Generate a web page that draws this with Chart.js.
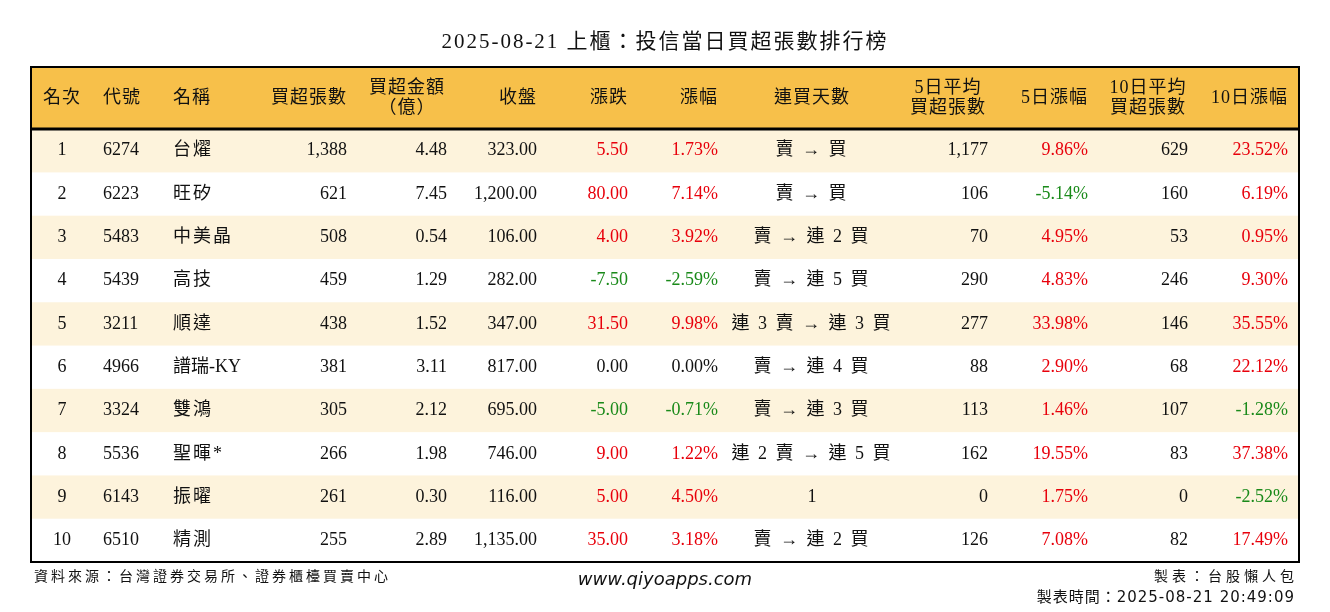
<!DOCTYPE html>
<html>
<head>
<meta charset="utf-8">
<script src="https://cdn.jsdelivr.net/npm/chart.js@4"></script>
<style>
  html, body { margin: 0; padding: 0; background: #fff; }
  #wrap { width: 1330px; height: 612px; position: relative; }
</style>
</head>
<body>
<div id="wrap"><canvas id="tbl"></canvas></div>
<script>
// 表データ
const headers = ['名次', '代號', '名稱', '買超張數', '買超金額\n（億）', '收盤', '漲跌', '漲幅', '連買天數', '5日平均\n買超張數', '5日漲幅', '10日平均\n買超張數', '10日漲幅'];
const ranks = [1, 2, 3, 4, 5, 6, 7, 8, 9, 10];
const codes = ['6274', '6223', '5483', '5439', '3211', '4966', '3324', '5536', '6143', '6510'];
const names = ['台燿', '旺矽', '中美晶', '高技', '順達', '譜瑞-KY', '雙鴻', '聖暉*', '振曜', '精測'];
const netBuy = [1388, 621, 508, 459, 438, 381, 305, 266, 261, 255];
const amount = [4.48, 7.45, 0.54, 1.29, 1.52, 3.11, 2.12, 1.98, 0.30, 2.89];
const closePrice = [323.00, 1200.00, 106.00, 282.00, 347.00, 817.00, 695.00, 746.00, 116.00, 1135.00];
const change = [5.50, 80.00, 4.00, -7.50, 31.50, 0.00, -5.00, 9.00, 5.00, 35.00];
const changePct = [1.73, 7.14, 3.92, -2.59, 9.98, 0.00, -0.71, 1.22, 4.50, 3.18];
const streak = ['賣 → 買', '賣 → 買', '賣 → 連 2 買', '賣 → 連 5 買', '連 3 賣 → 連 3 買', '賣 → 連 4 買', '賣 → 連 3 買', '連 2 賣 → 連 5 買', '1', '賣 → 連 2 買'];
const avg5 = [1177, 106, 70, 290, 277, 88, 113, 162, 0, 126];
const pct5 = [9.86, -5.14, 4.95, 4.83, 33.98, 2.90, 1.46, 19.55, 1.75, 7.08];
const avg10 = [629, 160, 53, 246, 146, 68, 107, 83, 0, 82];
const pct10 = [23.52, 6.19, 0.95, 9.30, 35.55, 22.12, -1.28, 37.38, -2.52, 17.49];

// 列の位置（x）と揃え
const cols = [
    { x: 62, align: 'center' }, { x: 103, align: 'left' }, { x: 173, align: 'left' },
    { x: 347, align: 'right' }, { x: 447, align: 'right' }, { x: 537, align: 'right' },
    { x: 628, align: 'right' }, { x: 718, align: 'right' }, { x: 812, align: 'center' },
    { x: 988, align: 'right' }, { x: 1088, align: 'right' }, { x: 1188, align: 'right' },
    { x: 1288, align: 'right' }
];

const RED = '#e8000b', GREEN = '#1a8a1a', INK = '#111';
const FONT = '"Liberation Serif", "Noto Sans CJK TC", serif';
const HEADER_ROWS = 1.435;

function fmtInt(v) { return v.toLocaleString('en-US'); }
function signColor(v) { return v > 0 ? RED : (v < 0 ? GREEN : INK); }
function hasCJK(s) { return /[\u3000-\u9fff\uff00-\uffef]/.test(s); }

function rowCells(i) {
    return [
        [String(ranks[i]), INK], [codes[i], INK], [names[i], INK],
        [fmtInt(netBuy[i]), INK], [amount[i].toFixed(2), INK],
        [closePrice[i].toLocaleString('en-US', { minimumFractionDigits: 2 }), INK],
        [change[i].toFixed(2), signColor(change[i])],
        [changePct[i].toFixed(2) + '%', signColor(changePct[i])],
        [streak[i], INK],
        [fmtInt(avg5[i]), INK], [pct5[i].toFixed(2) + '%', signColor(pct5[i])],
        [fmtInt(avg10[i]), INK], [pct10[i].toFixed(2) + '%', signColor(pct10[i])]
    ];
}

// 表を描くプラグイン
const tablePlugin = {
    id: 'tablePlugin',
    beforeDatasetsDraw(chart) {
        const { ctx, chartArea: a, scales: { x, y } } = chart;
        ctx.save();
        // 見出し
        ctx.fillStyle = '#f7c04a';
        ctx.fillRect(a.left, y.getPixelForValue(-HEADER_ROWS), a.width, y.getPixelForValue(0) - y.getPixelForValue(-HEADER_ROWS));
        // 縞模様
        ranks.forEach((r, i) => {
            if (i % 2 === 0) {
                ctx.fillStyle = '#fdf3dc';
                ctx.fillRect(a.left, y.getPixelForValue(i), a.width, y.getPixelForValue(i + 1) - y.getPixelForValue(i));
            }
        });
        ctx.textBaseline = 'middle';
        ctx.font = '18px ' + FONT;
        const hy = y.getPixelForValue(-HEADER_ROWS / 2);
        ctx.letterSpacing = '1px';
        headers.forEach((h, c) => {
            ctx.fillStyle = INK;
            const lines = h.split('\n');
            ctx.textAlign = cols[c].align === 'right' && lines.length > 1 ? 'center' : cols[c].align;
            lines.forEach((ln, k) => {
                let px = x.getPixelForValue(cols[c].x);
                if (lines.length > 1) px -= 40;
                const py = hy + (k - (lines.length - 1) / 2) * 20;
                ctx.fillText(ln, px, py);
            });
        });
        ranks.forEach((r, i) => {
            const py = y.getPixelForValue(i + 0.5);
            rowCells(i).forEach(([t, color], c) => {
                ctx.fillStyle = color;
                ctx.textAlign = cols[c].align;
                ctx.letterSpacing = hasCJK(t) && !/[A-Z]/.test(t) ? '2px' : '0px';
                ctx.fillText(t, x.getPixelForValue(cols[c].x), py);
            });
        });
        // 枠線
        ctx.strokeStyle = '#000';
        ctx.lineWidth = 3;
        ctx.beginPath();
        ctx.moveTo(a.left, y.getPixelForValue(0));
        ctx.lineTo(a.right, y.getPixelForValue(0));
        ctx.stroke();
        ctx.lineWidth = 2;
        ctx.strokeRect(a.left, a.top, a.width, a.height);
        // タイトルとフッター
        ctx.fillStyle = INK;
        ctx.textAlign = 'center';
        ctx.font = '21px ' + FONT;
        ctx.letterSpacing = '2px';
        ctx.fillText('2025-08-21 上櫃：投信當日買超張數排行榜', 665, 42);
        ctx.font = '14px "Liberation Serif", "Noto Sans CJK TC"';
        ctx.letterSpacing = '3px';
        ctx.textAlign = 'left';
        ctx.fillText('資料來源：台灣證券交易所、證券櫃檯買賣中心', 34, 577);
        ctx.textAlign = 'right';
        ctx.letterSpacing = '4px';
        ctx.fillText('製表：台股懶人包', 1298, 577);
        ctx.font = '15px "DejaVu Sans", "Noto Sans CJK TC"';
        ctx.letterSpacing = '1px';
        ctx.fillText('製表時間：2025-08-21 20:49:09', 1295, 598);
        ctx.letterSpacing = '0px';
        ctx.textAlign = 'center';
        ctx.font = 'italic 18px "DejaVu Sans"';
        ctx.fillText('www.qiyoapps.com', 665, 580);
        ctx.restore();
    }
};

Chart.defaults.animation = false;
new Chart(document.getElementById('tbl'), {
    type: 'scatter',
    data: { datasets: [{ data: ranks.map((r, i) => ({ x: cols[0].x, y: i + 0.5 })), pointRadius: 0 }] },
    options: {
        responsive: true,
        maintainAspectRatio: false,
        layout: { padding: { left: 31, right: 31, top: 67, bottom: 50 } },
        plugins: { legend: { display: false }, tooltip: { enabled: false } },
        scales: {
            x: { type: 'linear', min: 31, max: 1299, display: false },
            y: { type: 'linear', min: -HEADER_ROWS, max: 10, reverse: true, display: false }
        }
    },
    plugins: [tablePlugin]
});
</script>
</body>
</html>
